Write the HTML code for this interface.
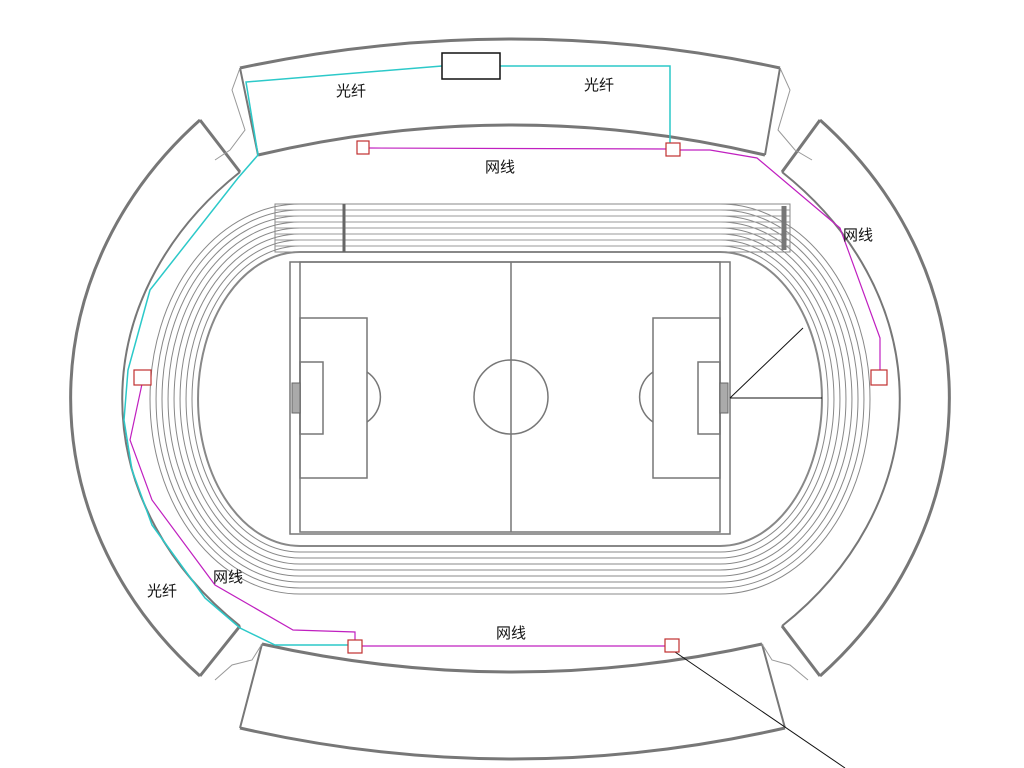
<!DOCTYPE html>
<html><head><meta charset="utf-8"><style>
html,body{margin:0;padding:0;background:#fff;}
svg{display:block}
text{font-family:"Liberation Sans","Noto Sans CJK SC",sans-serif;font-size:15px;fill:#111}
</style></head><body>
<svg width="1024" height="768" viewBox="0 0 1024 768" xmlns="http://www.w3.org/2000/svg">
<g fill="none" stroke="#777" stroke-width="3">
<path d="M200,120 A444,394 0 0 0 200,676"/>
<path d="M820,120 A444,394 0 0 1 820,676"/>
<path d="M240,172 A390,317 0 0 0 240,626" stroke-width="2"/>
<path d="M782,172 A390,317 0 0 1 782,626" stroke-width="2"/>
<path d="M200,120 L240,172 M200,676 L240,626 M820,120 L782,172 M820,676 L782,626"/>
<path d="M240,68 Q512,10 780,68" />
<path d="M258,155 Q512,95 765,155" />
<path d="M240,68 L258,155 M780,68 L765,155" stroke-width="2"/>
<path d="M262,644 Q512,700 762,644"/>
<path d="M240,728 Q512,790 785,728"/>
<path d="M262,644 L240,728 M762,644 L785,728" stroke-width="2"/>
</g>
<g fill="none" stroke="#999" stroke-width="1">
<path d="M240,68 L232,90 L245,130 L230,150 L215,160"/>
<path d="M780,68 L790,90 L778,130 L795,150 L812,160"/>
<path d="M262,644 L252,660 L232,665 L215,680"/>
<path d="M762,644 L772,660 L790,665 L808,680"/>
</g>
<g fill="none" stroke="#888" stroke-width="1">
<path d="M300,252 L720,252 A102,147 0 0 1 720,546 L300,546 A102,147 0 0 1 300,252 Z" stroke-width="2"/>
<path d="M300,246 L720,246 A108,153 0 0 1 720,552 L300,552 A108,153 0 0 1 300,246 Z"/>
<path d="M300,240 L720,240 A114,159 0 0 1 720,558 L300,558 A114,159 0 0 1 300,240 Z"/>
<path d="M300,234 L720,234 A120,165 0 0 1 720,564 L300,564 A120,165 0 0 1 300,234 Z"/>
<path d="M300,228 L720,228 A126,171 0 0 1 720,570 L300,570 A126,171 0 0 1 300,228 Z"/>
<path d="M300,222 L720,222 A132,177 0 0 1 720,576 L300,576 A132,177 0 0 1 300,222 Z"/>
<path d="M300,216 L720,216 A138,183 0 0 1 720,582 L300,582 A138,183 0 0 1 300,216 Z"/>
<path d="M300,210 L720,210 A144,189 0 0 1 720,588 L300,588 A144,189 0 0 1 300,210 Z"/>
<path d="M300,204 L720,204 A150,195 0 0 1 720,594 L300,594 A150,195 0 0 1 300,204 Z"/>
</g>
<rect x="275" y="204" width="515" height="48" fill="none" stroke="#888"/>
<g stroke="#999" stroke-width="1">
<line x1="275" y1="210" x2="790" y2="210"/><line x1="275" y1="216" x2="790" y2="216"/>
<line x1="275" y1="222" x2="790" y2="222"/><line x1="275" y1="228" x2="790" y2="228"/>
<line x1="275" y1="234" x2="790" y2="234"/><line x1="275" y1="240" x2="790" y2="240"/>
<line x1="275" y1="246" x2="790" y2="246"/>
</g>
<line x1="344" y1="204" x2="344" y2="252" stroke="#666" stroke-width="3"/>
<line x1="784" y1="206" x2="784" y2="250" stroke="#777" stroke-width="5"/>
<g fill="none" stroke="#777" stroke-width="1.5">
<rect x="290" y="262" width="440" height="272"/>
<rect x="300" y="262" width="420" height="270"/>
<line x1="511" y1="262" x2="511" y2="532"/>
<circle cx="511" cy="397" r="37"/>
<rect x="300" y="318" width="67" height="160"/>
<rect x="300" y="362" width="23" height="72"/>
<path d="M367,372 A30,30 0 0 1 367,422"/>
<rect x="653" y="318" width="67" height="160"/>
<rect x="698" y="362" width="22" height="72"/>
<path d="M653,372 A30,30 0 0 0 653,422"/>
</g>
<rect x="292" y="383" width="8" height="30" fill="#aaa" stroke="#666"/>
<rect x="720" y="383" width="8" height="30" fill="#aaa" stroke="#666"/>
<line x1="730" y1="398" x2="803" y2="328" stroke="#111"/>
<line x1="730" y1="398" x2="822" y2="398" stroke="#111"/>
<g fill="none" stroke="#2cc9c9" stroke-width="1.5">
<path d="M442,66 L246,82 L258,155 L238,178 L150,290 L128,370 L124,420 L132,470 L152,525 L205,598 L240,628 L275,645 L355,645"/>
<path d="M500,66 L670,66 L670,145"/>
</g>
<g fill="none" stroke="#c020c0" stroke-width="1.2">
<path d="M368,148 L667,149"/>
<path d="M678,150 L710,150 L757,158 L840,228 L880,338 L880,371"/>
<path d="M142,384 L130,440 L152,500 L215,585 L293,630 L355,632 L355,640"/>
<path d="M362,646 L666,646"/>
</g>
<line x1="675" y1="652" x2="845" y2="768" stroke="#111"/>
<rect x="442" y="53" width="58" height="26" fill="#fff" stroke="#111" stroke-width="1.5"/>
<g fill="#fff" stroke="#c03030" stroke-width="1.2">
<rect x="357" y="141" width="12" height="13"/>
<rect x="666" y="143" width="14" height="13"/>
<rect x="871" y="370" width="16" height="15"/>
<rect x="134" y="370" width="17" height="15"/>
<rect x="348" y="640" width="14" height="13"/>
<rect x="665" y="639" width="14" height="13"/>
</g>
<text x="336" y="96">光纤</text>
<text x="584" y="90">光纤</text>
<text x="147" y="596">光纤</text>
<text x="485" y="172">网线</text>
<text x="843" y="240">网线</text>
<text x="213" y="582">网线</text>
<text x="496" y="638">网线</text>
</svg>
</body></html>
